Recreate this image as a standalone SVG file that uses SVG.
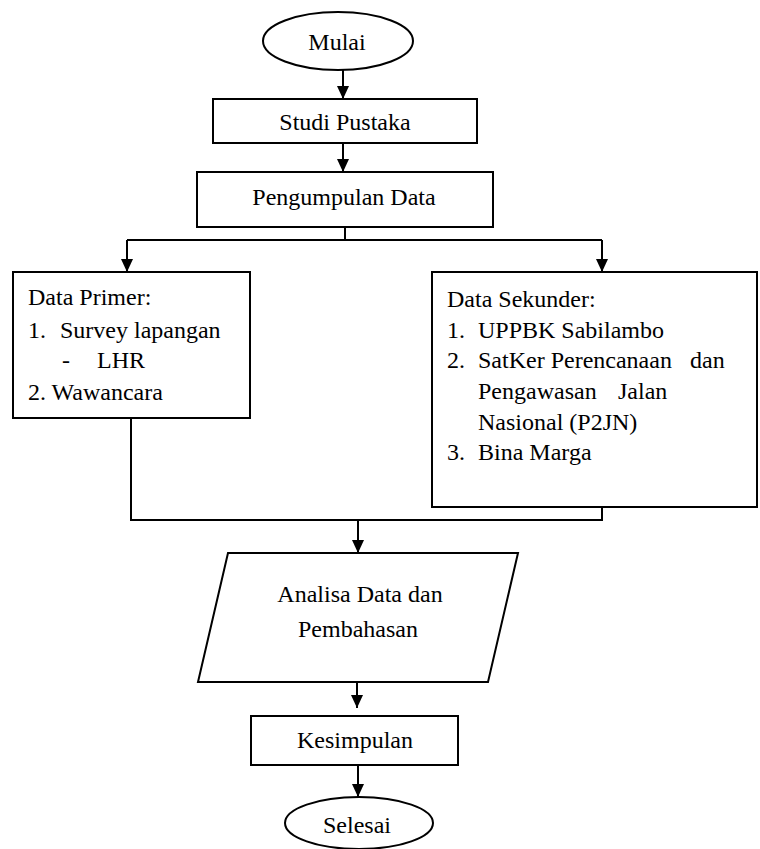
<svg xmlns="http://www.w3.org/2000/svg" width="760" height="849" viewBox="0 0 760 849" font-family="Liberation Serif, DejaVu Serif, Times New Roman, serif" font-size="24">
<style>
.s{fill:#fff;stroke:#000;stroke-width:2}
.c{fill:none;stroke:#000;stroke-width:2}
.m{text-anchor:middle}
</style>
<defs>
<marker id="ah" markerUnits="userSpaceOnUse" markerWidth="13" markerHeight="12" refX="13" refY="6" orient="auto" viewBox="0 0 13 12">
<path d="M0,0 L13,6 L0,12 z" fill="#000"/>
</marker>
</defs>
<rect width="760" height="849" fill="#fff"/>
<g id="connectors">
<path class="c" d="M343,70 V99" marker-end="url(#ah)"/>
<path class="c" d="M343,143 V172" marker-end="url(#ah)"/>
<path class="c" d="M345,227 V240"/>
<path class="c" d="M127,240 H602"/>
<path class="c" d="M127,240 V272" marker-end="url(#ah)"/>
<path class="c" d="M602,240 V272" marker-end="url(#ah)"/>
<path class="c" d="M131,418 V520 H602 V507"/>
<path class="c" d="M358,520 V553" marker-end="url(#ah)"/>
<path class="c" d="M357,682 V708" marker-end="url(#ah)"/>
<path class="c" d="M358,765 V797" marker-end="url(#ah)"/>
</g>
<g id="mulai">
<ellipse class="s" cx="338" cy="41" rx="75" ry="29"/>
<text class="m" x="337" y="50">Mulai</text>
</g>
<g id="studi-pustaka">
<rect class="s" x="213" y="99" width="264" height="44"/>
<text class="m" x="345" y="130">Studi Pustaka</text>
</g>
<g id="pengumpulan-data">
<rect class="s" x="197" y="172" width="296" height="55"/>
<text class="m" x="344" y="205">Pengumpulan Data</text>
</g>
<g id="data-primer">
<rect class="s" x="13" y="272" width="237" height="146"/>
<text x="28" y="305">Data Primer:</text>
<text y="338"><tspan x="28">1.</tspan><tspan x="60">Survey lapangan</tspan></text>
<text y="368"><tspan x="62">-</tspan><tspan x="97">LHR</tspan></text>
<text x="28" y="400">2. Wawancara</text>
</g>
<g id="data-sekunder">
<rect class="s" x="432" y="272" width="325" height="235"/>
<text x="447" y="307">Data Sekunder:</text>
<text y="338"><tspan x="447">1.</tspan><tspan x="478">UPPBK Sabilambo</tspan></text>
<text y="368"><tspan x="447">2.</tspan><tspan x="478">SatKer Perencanaan</tspan><tspan x="690">dan</tspan></text>
<text y="399"><tspan x="478">Pengawasan</tspan><tspan x="618">Jalan</tspan></text>
<text x="478" y="430">Nasional (P2JN)</text>
<text y="460"><tspan x="447">3.</tspan><tspan x="478">Bina Marga</tspan></text>
</g>
<g id="analisa">
<polygon class="s" points="228,553 518,553 488,682 198,682"/>
<text class="m" x="360" y="602">Analisa Data dan</text>
<text class="m" x="358" y="637">Pembahasan</text>
</g>
<g id="kesimpulan">
<rect class="s" x="251" y="716" width="207" height="49"/>
<text class="m" x="355" y="748">Kesimpulan</text>
</g>
<g id="selesai">
<ellipse class="s" cx="359" cy="823" rx="74" ry="26"/>
<text class="m" x="357" y="833">Selesai</text>
</g>
</svg>
